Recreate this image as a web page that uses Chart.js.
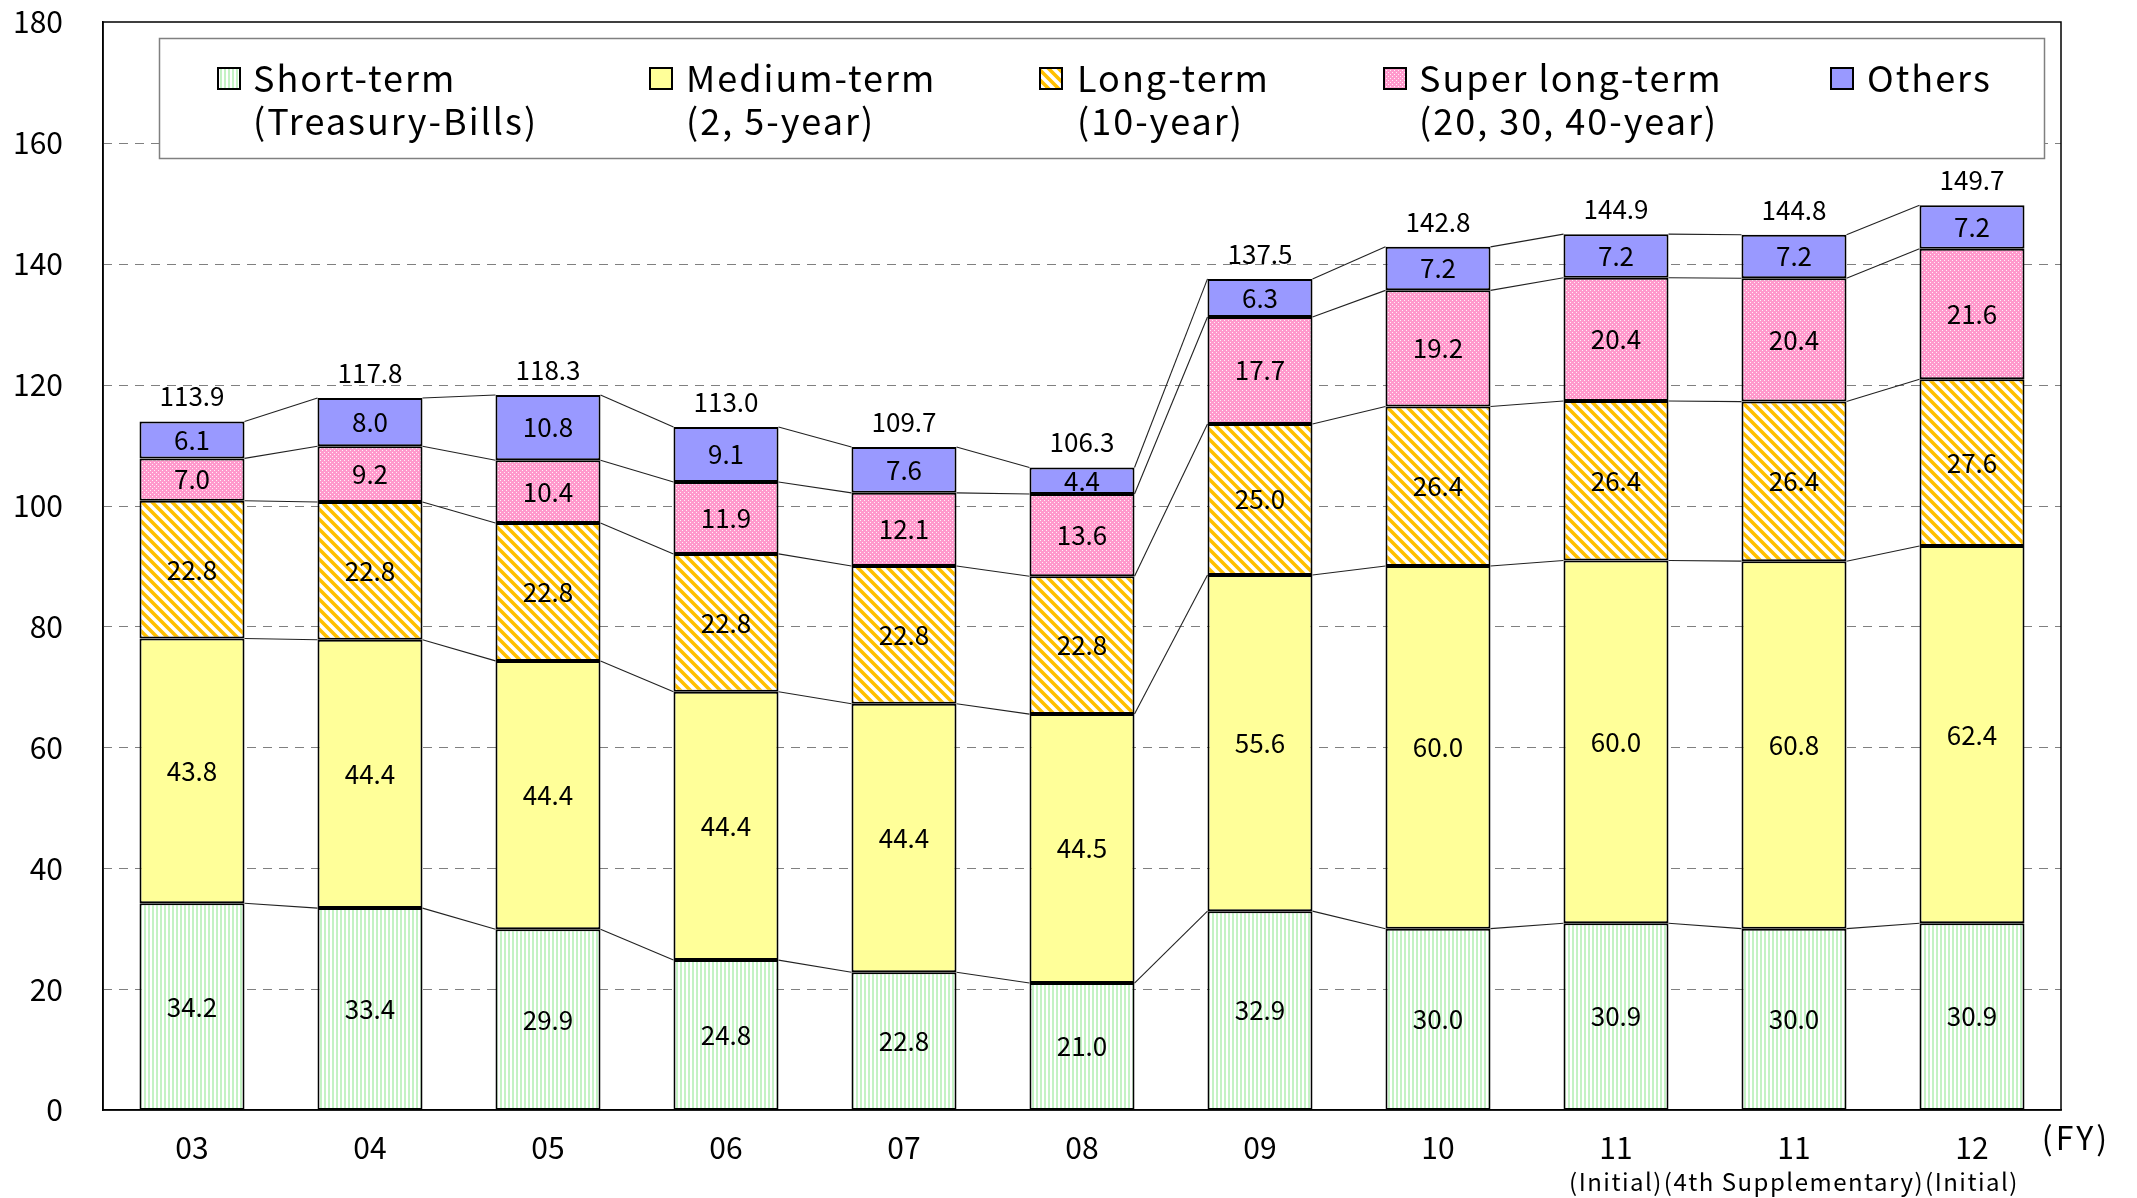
<!DOCTYPE html>
<html>
<head>
<meta charset="utf-8">
<script src="https://cdn.jsdelivr.net/npm/chart.js@4.4.1/dist/chart.umd.min.js"></script>
<style>
html,body{margin:0;padding:0;background:#fff;}
#wrap{width:2137px;height:1198px;position:relative;}
</style>
</head>
<body>
<div id="wrap"><canvas id="c" width="2137" height="1198"></canvas></div>
<script>
const categories = ['03','04','05','06','07','08','09','10','11','11','12'];
const subLabels = ['','','','','','','','','(Initial)','(4th Supplementary)','(Initial)'];
const shortTerm = [34.2,33.4,29.9,24.8,22.8,21.0,32.9,30.0,30.9,30.0,30.9];
const mediumTerm = [43.8,44.4,44.4,44.4,44.4,44.5,55.6,60.0,60.0,60.8,62.4];
const longTerm = [22.8,22.8,22.8,22.8,22.8,22.8,25.0,26.4,26.4,26.4,27.6];
const superLong = [7.0,9.2,10.4,11.9,12.1,13.6,17.7,19.2,20.4,20.4,21.6];
const others = [6.1,8.0,10.8,9.1,7.6,4.4,6.3,7.2,7.2,7.2,7.2];
const totals = [113.9,117.8,118.3,113.0,109.7,106.3,137.5,142.8,144.9,144.8,149.7];
const legendLine1 = ['Short-term','Medium-term','Long-term','Super long-term','Others'];
const legendLine2 = ['(Treasury-Bills)','(2, 5-year)','(10-year)','(20, 30, 40-year)',''];
const yTicks = [0,20,40,60,80,100,120,140,160,180];

const FONT = '"Noto Sans CJK JP","Noto Sans",sans-serif';

function mk(w,h,draw){const c=document.createElement('canvas');c.width=w;c.height=h;const x=c.getContext('2d');draw(x);return c;}
const ctx0 = document.getElementById('c').getContext('2d');
const patShort = ctx0.createPattern(mk(4,4,x=>{x.fillStyle='#ffffff';x.fillRect(0,0,4,4);x.fillStyle='#c4f2c4';x.fillRect(0,0,2,4);}),'repeat');
const patLong = ctx0.createPattern(mk(10,10,x=>{x.fillStyle='#ffffff';x.fillRect(0,0,10,10);x.strokeStyle='#ffc000';x.lineWidth=3.6;
  x.beginPath();x.moveTo(-5,-5);x.lineTo(15,15);x.moveTo(-5,5);x.lineTo(5,15);x.moveTo(5,-5);x.lineTo(15,5);x.stroke();}),'repeat');
const patSuper = ctx0.createPattern(mk(4,4,x=>{x.fillStyle='#ff99cc';x.fillRect(0,0,4,4);x.fillStyle='rgba(255,255,255,0.85)';x.fillRect(0,0,1,1);x.fillRect(2,2,1,1);}),'repeat');
const fills = [patShort,'#ffff99',patLong,patSuper,'#9999ff'];
const series = [shortTerm,mediumTerm,longTerm,superLong,others];

function spaced(ctx, px){ if('letterSpacing' in ctx) ctx.letterSpacing = px+'px'; }

const bgPlugin = {
  id:'bg',
  beforeDatasetsDraw(chart){
    const {ctx,chartArea:a,scales:{y}} = chart;
    ctx.save();
    ctx.strokeStyle='#808080';ctx.lineWidth=1.2;ctx.setLineDash([9,7]);
    yTicks.forEach(v=>{ if(v===0||v===180) return; const py=Math.round(y.getPixelForValue(v))+0.5;
      ctx.beginPath();ctx.moveTo(a.left,py);ctx.lineTo(a.right,py);ctx.stroke();});
    ctx.setLineDash([]);
    ctx.strokeStyle='#000';ctx.lineWidth=1.5;
    ctx.strokeRect(a.left,a.top,a.right-a.left,a.bottom-a.top);
    ctx.fillStyle='#000';ctx.textAlign='right';ctx.textBaseline='middle';
    ctx.font='30px '+FONT;
    yTicks.forEach(v=>{ ctx.fillText(String(v), 63, y.getPixelForValue(v)); });
    ctx.restore();
  }
};

const overlayPlugin = {
  id:'overlay',
  afterDatasetsDraw(chart){
    const {ctx} = chart;
    ctx.save();
    ctx.strokeStyle='#222';ctx.lineWidth=1.1;
    for(let d=0; d<series.length; d++){
      const meta = chart.getDatasetMeta(d);
      for(let i=0;i<categories.length-1;i++){
        const e1=meta.data[i], e2=meta.data[i+1];
        ctx.beginPath();
        ctx.moveTo(e1.x+e1.width/2, e1.y);
        ctx.lineTo(e2.x-e2.width/2, e2.y);
        ctx.stroke();
      }
    }
    ctx.fillStyle='#000';ctx.textAlign='center';ctx.textBaseline='middle';
    ctx.font='26px '+FONT;
    for(let d=0; d<series.length; d++){
      const meta = chart.getDatasetMeta(d);
      meta.data.forEach((e,i)=>{
        ctx.fillText(series[d][i].toFixed(1), e.x, (e.y+e.base)/2);
      });
    }
    const top = chart.getDatasetMeta(series.length-1);
    top.data.forEach((e,i)=>{
      ctx.fillText(totals[i].toFixed(1), e.x, e.y-25);
    });
    ctx.restore();
  },
  afterDraw(chart){
    const {ctx,scales:{x}} = chart;
    ctx.save();
    ctx.fillStyle='#000';ctx.textAlign='center';ctx.textBaseline='middle';
    ctx.font='24px '+FONT;
    spaced(ctx,1.5);
    subLabels.forEach((s,i)=>{ if(s) ctx.fillText(s, x.getPixelForValue(i), 1182); });
    ctx.font='32px '+FONT;
    spaced(ctx,3);
    ctx.fillText('(FY)', 2076, 1138);
    spaced(ctx,0);
    ctx.fillStyle='#fff';
    ctx.fillRect(159,38,2044-159,158-38);
    ctx.strokeStyle='#808080';ctx.lineWidth=1.5;
    ctx.strokeRect(159.5,38.5,2044-159,158-38);
    const mx=[218,650,1040,1384,1831];
    const tx=[253,686,1077,1419,1867];
    ctx.textAlign='left';
    ctx.font='36px '+FONT;
    for(let k=0;k<5;k++){
      ctx.fillStyle=fills[k];
      ctx.fillRect(mx[k],68,22,21);
      ctx.strokeStyle='#000';ctx.lineWidth=2;
      ctx.strokeRect(mx[k],68,22,21);
      ctx.fillStyle='#000';
      spaced(ctx,2);
      ctx.fillText(legendLine1[k], tx[k], 78);
      if(legendLine2[k]) ctx.fillText(legendLine2[k], tx[k], 121);
      spaced(ctx,0);
    }
    ctx.restore();
  }
};

new Chart(document.getElementById('c'), {
  type:'bar',
  data:{
    labels: categories,
    datasets: series.map((s,k)=>({
      label: legendLine1[k],
      data: s,
      backgroundColor: fills[k],
      borderColor:'#000',
      borderWidth:2,
      borderSkipped:false,
      barPercentage:0.59,
      categoryPercentage:1.0
    }))
  },
  options:{
    responsive:false,
    animation:false,
    events:[],
    layout:{padding:{left:0,top:22,right:76,bottom:0}},
    plugins:{legend:{display:false},tooltip:{enabled:false},title:{display:false}},
    scales:{
      x:{
        stacked:true,
        grid:{display:false,drawTicks:false},
        border:{display:true,color:'#000',width:1.5},
        ticks:{color:'#000',font:{family:FONT,size:30},padding:20,maxRotation:0,autoSkip:false},
        afterFit(s){s.height=88;}
      },
      y:{
        stacked:true,
        min:0,max:180,
        grid:{display:false,drawTicks:false},
        border:{display:true,color:'#000',width:1.5},
        ticks:{display:false,stepSize:20},
        afterFit(s){s.width=103;}
      }
    }
  },
  plugins:[bgPlugin,overlayPlugin]
});
</script>
</body>
</html>
